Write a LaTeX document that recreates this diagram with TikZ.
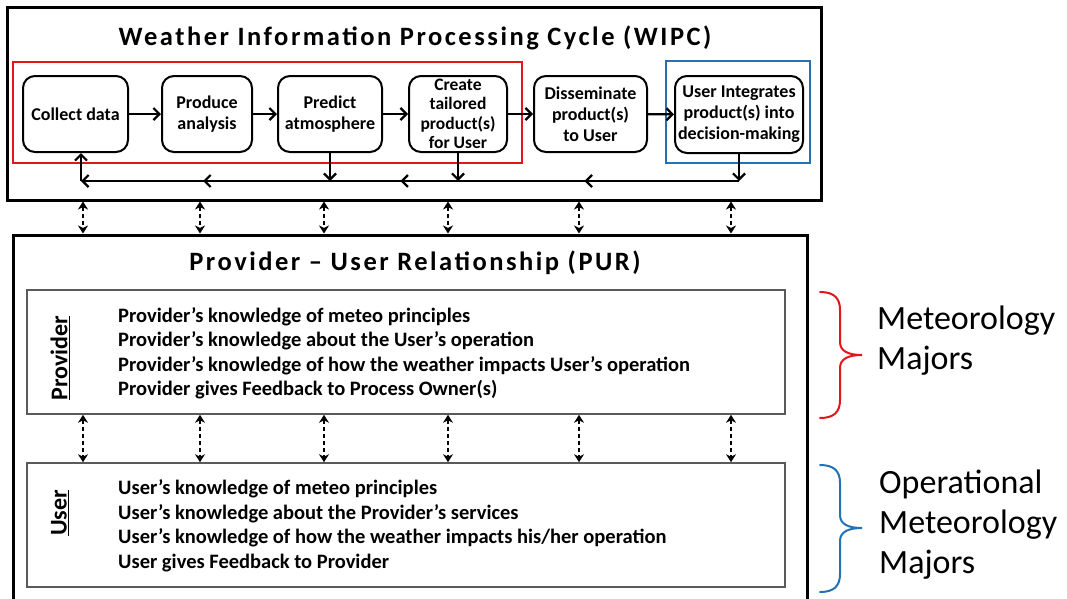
\documentclass[tikz,border=0pt]{standalone}
\usepackage{fontspec}
\setmainfont{Carlito}
\usetikzlibrary{arrows.meta,decorations.markings}
\definecolor{wred}{HTML}{E3151D}
\definecolor{wblue}{HTML}{2372B5}
\definecolor{gborder}{HTML}{5A5A5A}
\begin{document}
\begin{tikzpicture}[x=1pt,y=-1pt,
  outerbox/.style={draw=black, line width=3pt, minimum width=#1, inner sep=0pt},
  stepbox/.style={draw=black, line width=2pt, rounded corners=12pt, inner sep=1pt, align=center,
     font=\fontsize{18}{21}\selectfont\bfseries},
  groupbox/.style={line width=2.5pt, inner sep=0pt},
  rolebox/.style={draw=gborder, line width=1.6pt, minimum width=758pt, minimum height=124pt, inner sep=0pt},
  flow/.style={line width=2.2pt, -{Straight Barb[length=6pt,width=12pt,line width=2.2pt]}},
  plain/.style={line width=2.2pt},
  midarr/.style={postaction={decorate}, decoration={markings,
     mark=at position #1 with {\arrow{Straight Barb[length=6pt,width=12pt,line width=2.2pt]}}}},
  darr/.style={line width=2pt, dash pattern=on 4pt off 3pt,
     {Stealth[length=8pt,width=10pt,inset=2.5pt]}-{Stealth[length=8pt,width=10pt,inset=2.5pt]}},
  ttl/.style={font=\fontsize{26.5}{30}\selectfont\bfseries\addfontfeature{LetterSpace=9.5}},
  listtxt/.style={align=left, anchor=west, inner sep=0pt, font=\fontsize{20.5}{24.5}\selectfont\bfseries},
  sidelbl/.style={rotate=90, inner sep=0pt, font=\fontsize{24}{26}\selectfont\bfseries},
  majors/.style={align=left, anchor=west, inner sep=0pt, font=\fontsize{34}{40}\selectfont},
  bracestyle/.style={line width=2pt, line cap=round}
]
\useasboundingbox[fill=white] (0,0) rectangle (1067,598);
\clip (0,0) rectangle (1067,598);

% outer boxes
\node[outerbox=814pt, minimum height=193pt] (wipc) at (414,103.5) {};
\node[outerbox=794pt, minimum height=370pt] (pur) at (410,420) {};
\node[ttl] (wipct) at (415,38) {Weather Information Processing Cycle (WIPC)};
\node[ttl] (purt) at (415,263) {Provider – User Relationship (PUR)};

% group highlight boxes
\node[groupbox, draw=wred, minimum width=509pt, minimum height=101pt] (redbox) at (267.5,112.5) {};
\node[groupbox, draw=wblue, minimum width=144pt, minimum height=102pt] (bluebox) at (738,112) {};

% process steps
\node[stepbox, minimum width=105pt, minimum height=76pt] (cd) at (75.5,114) {Collect data};
\node[stepbox, minimum width=90pt, minimum height=76pt] (pa) at (207,114) {Produce\\analysis};
\node[stepbox, minimum width=104pt, minimum height=76pt] (pr) at (330,114) {Predict\\atmosphere};
\node[stepbox, minimum width=98pt, minimum height=76pt, font=\fontsize{17.5}{19.5}\selectfont\bfseries] (ct) at (458,114) {Create\\tailored\\product(s)\\for User};
\node[stepbox, minimum width=113pt, minimum height=76pt] (ds) at (590.5,114) {Disseminate\\product(s)\\to User};
\node[stepbox, minimum width=128pt, minimum height=77pt] (ui) at (739,114.5) {User Integrates\\product(s) into\\decision-making};

\draw[flow] (cd) -- (pa);
\draw[flow] (pa) -- (pr);
\draw[flow] (pr) -- (ct);
\draw[flow] (ct) -- (ds);
\draw[flow] (ds) -- (ui);

% feedback loop
\coordinate (f0) at (81,181);
\coordinate (f3) at (pr.center |- f0);
\coordinate (f2) at (ct.center |- f0);
\coordinate (f1) at (ui.center |- f0);
\draw[flow] (pr) -- (f3);
\draw[flow] (ct) -- (f2);
\draw[flow] (ui) -- (f1);
\draw[plain, midarr=0.55] (f1) -- (f2);
\draw[plain, midarr=0.45] (f2) -- (f3);
\draw[flow, midarr=0.51] (f3) -- (f0);
\draw[flow] (f0) -- (f0 |- cd.south);

% provider / user boxes
\node[rolebox] (prov) at (406,352) {};
\node[rolebox] (user) at (406,525) {};
\node[sidelbl] (provl) at (60,358) {\underline{Provider}};
\node[sidelbl] (userl) at (60,513) {\underline{User}};
\node[listtxt] (provt) at (118,353.5) {Provider’s knowledge of meteo principles\\Provider’s knowledge about the User’s operation\\Provider’s knowledge of how the weather impacts User’s operation\\Provider gives Feedback to Process Owner(s)};
\node[listtxt] (usert) at (118,526) {User’s knowledge of meteo principles\\User’s knowledge about the Provider’s services\\User’s knowledge of how the weather impacts his/her operation\\User gives Feedback to Provider};

% dashed two-way links
\foreach \x [count=\i] in {83,200,324,448,579,731} \coordinate (c\i) at (\x,0);
\foreach \i in {1,...,6} {
  \draw[darr] (c\i |- wipc.south) -- (c\i |- pur.north);
  \draw[darr] (c\i |- prov.south) -- (c\i |- user.north);
}

% braces
\draw[bracestyle, wred] (820,292) .. controls (834,292) and (840,298) .. (840,310) -- (840,342)
  .. controls (840,351) and (848,355) .. (862,355) .. controls (848,355) and (840,359) .. (840,368)
  -- (840,400) .. controls (840,412) and (834,418) .. (820,418);
\draw[bracestyle, wblue] (820,465) .. controls (834,465) and (840,471) .. (840,483) -- (840,515)
  .. controls (840,524) and (848,528) .. (862,528) .. controls (848,528) and (840,532) .. (840,541)
  -- (840,574) .. controls (840,586) and (834,592) .. (820,592);
\node[majors] (m1) at (877,341) {Meteorology\\Majors};
\node[majors] (m2) at (879,525) {Operational\\Meteorology\\Majors};
\end{tikzpicture}
\end{document}
